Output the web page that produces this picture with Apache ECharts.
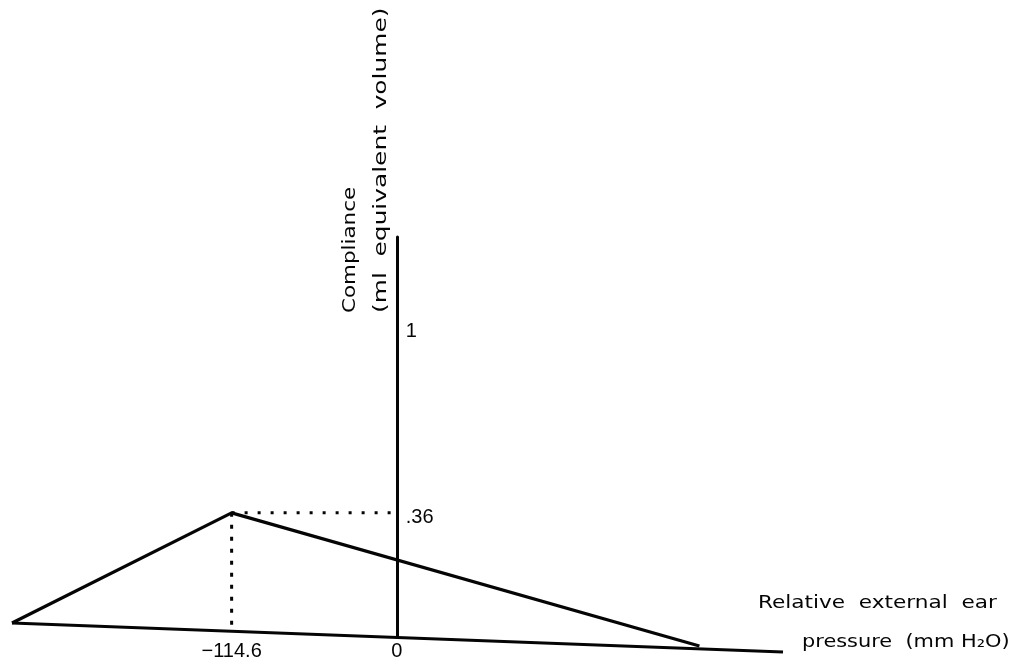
<!DOCTYPE html>
<html>
<head>
<meta charset="utf-8">
<script src="https://cdn.jsdelivr.net/npm/echarts@6/dist/echarts.min.js"></script>
<style>
  html, body { margin: 0; padding: 0; background: #fff; }
  #chart { width: 1023px; height: 667px; }
</style>
</head>
<body>
<div id="chart"></div>
<script>
// ---- data ----
const xTickValues = [-114.6, 0];
const xTickLabels = ['\u2212114.6', '0'];
const yTickValues = [0.36, 1];
const yTickLabels = ['.36', '1'];

// tympanogram (left tail, peak, right tail)
const curveX = [-267, -114.6, 210];
const curveY = [-0.019, 0.36, -0.098];
// slanted drawn pressure axis baseline
const baseX = [-267, 268];
const baseY = [-0.019, -0.119];
// dotted guides from the peak
const dropX = [-114.6, -114.6];
const dropY = [0.36, -0.046];
const levelX = [-114.6, 0];
const levelY = [0.36, 0.36];

const xTitle1 = 'Relative  external  ear';
const xTitle2 = 'pressure  (mm H\u2082O)';
const yTitle1 = 'Compliance';
const yTitle2 = '(ml  equivalent  volume)';

const pairs = (xs, ys) => xs.map((x, i) => [x, ys[i]]);

const X_MIN = -267, X_MAX = 268;
const Y_MIN = -0.067, Y_MAX = 1.309;
const GRID_LEFT = 12, GRID_RIGHT = 240;
const plotW = 1023 - GRID_LEFT - GRID_RIGHT;
const zeroOffset = (0 - X_MIN) / (X_MAX - X_MIN) * plotW;

const chart = echarts.init(document.getElementById('chart'), null, { renderer: 'canvas' });
const ink = '#050505';
const tickFont = { fontFamily: '"Liberation Sans", Arial, sans-serif', fontSize: 20, color: ink };

chart.setOption({
  animation: false,
  backgroundColor: '#fff',
  grid: { left: GRID_LEFT, right: GRID_RIGHT, top: 237, bottom: 30, containLabel: false },
  xAxis: {
    type: 'value',
    min: X_MIN,
    max: X_MAX,
    axisLine: { show: false, onZero: false },
    axisTick: { show: false },
    splitLine: { show: false },
    axisLabel: Object.assign({
      customValues: xTickValues,
      margin: 4,
      formatter: v => {
        const i = xTickValues.findIndex(t => Math.abs(t - v) < 1e-6);
        return i >= 0 ? xTickLabels[i] : '';
      }
    }, tickFont)
  },
  yAxis: {
    type: 'value',
    min: Y_MIN,
    max: Y_MAX,
    position: 'left',
    offset: -zeroOffset,
    axisLine: { show: true, onZero: false, lineStyle: { color: ink, width: 3 } },
    axisTick: { show: false },
    splitLine: { show: false },
    axisLabel: Object.assign({
      inside: true,
      margin: 9,
      verticalAlign: 'top',
      lineHeight: 10,
      customValues: yTickValues,
      formatter: v => {
        const i = yTickValues.findIndex(t => Math.abs(t - v) < 1e-6);
        return i >= 0 ? yTickLabels[i] : '';
      }
    }, tickFont)
  },
  series: [
    {
      type: 'line', data: pairs(baseX, baseY), symbol: 'none', silent: true, clip: false,
      lineStyle: { color: ink, width: 3 }
    },
    {
      type: 'line', data: pairs(curveX, curveY), symbol: 'none', silent: true, clip: false,
      lineStyle: { color: ink, width: 3.2, join: 'round' }
    },
    {
      type: 'line', data: pairs(dropX, dropY), symbol: 'none', silent: true, clip: false,
      lineStyle: { color: ink, width: 3, type: [4, 8] }
    },
    {
      type: 'line', data: pairs(levelX, levelY), symbol: 'none', silent: true, clip: false,
      lineStyle: { color: ink, width: 3, type: [3, 10] }
    }
  ],
  graphic: [
    {
      type: 'text', x: 758, y: 603, scaleX: 1.2,
      style: { text: xTitle1, fontFamily: '"DejaVu Sans", sans-serif', fontSize: 18, fill: ink, align: 'left', verticalAlign: 'middle' }
    },
    {
      type: 'text', x: 802, y: 642, scaleX: 1.16,
      style: { text: xTitle2, fontFamily: '"DejaVu Sans", sans-serif', fontSize: 18, fill: ink, align: 'left', verticalAlign: 'middle' }
    },
    {
      type: 'text', x: 350, y: 313, rotation: Math.PI / 2, scaleX: 1.19,
      style: { text: yTitle1, fontFamily: '"DejaVu Sans", sans-serif', fontSize: 18, fill: ink, align: 'left', verticalAlign: 'middle' }
    },
    {
      type: 'text', x: 381, y: 313, rotation: Math.PI / 2, scaleX: 1.38,
      style: { text: yTitle2, fontFamily: '"DejaVu Sans", sans-serif', fontSize: 18, fill: ink, align: 'left', verticalAlign: 'middle' }
    }
  ]
});
</script>
</body>
</html>
